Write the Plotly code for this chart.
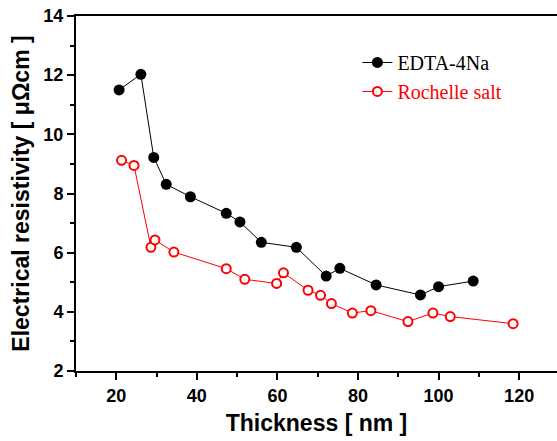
import plotly.graph_objects as go

edta_x = [20.7, 26.1, 29.3, 32.4, 38.4, 47.3, 50.7, 56.0, 64.7, 72.1, 75.5, 84.5, 95.5, 100.0, 108.6]
edta_y = [11.50, 12.03, 9.22, 8.31, 7.89, 7.33, 7.04, 6.35, 6.18, 5.21, 5.47, 4.91, 4.57, 4.85, 5.04]

roch_x = [21.3, 24.4, 28.6, 29.6, 34.3, 47.3, 51.9, 59.8, 61.5, 67.6, 70.7, 73.4, 78.6, 83.2, 92.4, 98.6, 102.9, 118.5]
roch_y = [9.12, 8.95, 6.18, 6.43, 6.02, 5.46, 5.10, 4.96, 5.32, 4.73, 4.56, 4.28, 3.96, 4.04, 3.67, 3.96, 3.84, 3.60]

x_ticks = [20, 40, 60, 80, 100, 120]
y_ticks = [2, 4, 6, 8, 10, 12, 14]

fig = go.Figure()
fig.add_trace(go.Scatter(
    x=edta_x, y=edta_y, mode="lines+markers", name="EDTA-4Na",
    legendgroup="a",
    line=dict(color="black", width=1),
    marker=dict(symbol="circle", size=11, color="black"),
))
fig.add_trace(go.Scatter(
    x=roch_x, y=roch_y, mode="lines+markers",
    name="<span style='color:#ff0000'>Rochelle salt</span>",
    legendgroup="b",
    line=dict(color="#ff0000", width=1),
    marker=dict(symbol="circle", size=9, color="white", line=dict(color="#ff0000", width=2)),
))

axis_font = dict(family="Liberation Sans, Arial, sans-serif", size=18, color="black")
title_font = dict(family="Liberation Sans, Arial, sans-serif", size=23, color="black")

fig.update_layout(
    width=557, height=441,
    margin=dict(l=76, r=0, t=16, b=70),
    paper_bgcolor="white", plot_bgcolor="white",
    showlegend=True,
    legend=dict(
        x=0.585, y=0.924, xanchor="left", yanchor="top",
        font=dict(family="Liberation Serif, Times New Roman, serif", size=20, color="black"),
        bgcolor="rgba(0,0,0,0)", traceorder="grouped", tracegroupgap=0,
        itemwidth=30,
    ),
    xaxis=dict(
        range=[10, 129.4], tickvals=x_ticks, ticktext=[f"<b>{v}</b>" for v in x_ticks],
        showgrid=False, zeroline=False,
        showline=True, linecolor="black", linewidth=2, mirror=True,
        ticks="outside", ticklen=7, tickwidth=2, tickcolor="black",
        minor=dict(dtick=10, tick0=0, ticks="outside", ticklen=4, tickwidth=2, tickcolor="black"),
        tickfont=axis_font,
        title=dict(text="<b>Thickness [ nm ]</b>", font=title_font, standoff=10),
    ),
    yaxis=dict(
        range=[2, 14], tickvals=y_ticks, ticktext=[f"<b>{v}</b>" for v in y_ticks],
        showgrid=False, zeroline=False,
        showline=True, linecolor="black", linewidth=2, mirror=False,
        ticks="outside", ticklen=7, tickwidth=2, tickcolor="black",
        minor=dict(dtick=1, tick0=0, ticks="outside", ticklen=4, tickwidth=2, tickcolor="black"),
        tickfont=axis_font,
        title=dict(text="<b>Electrical resistivity [ μΩcm ]</b>", font=title_font, standoff=7),
    ),
)

fig.write_html("out.html")
